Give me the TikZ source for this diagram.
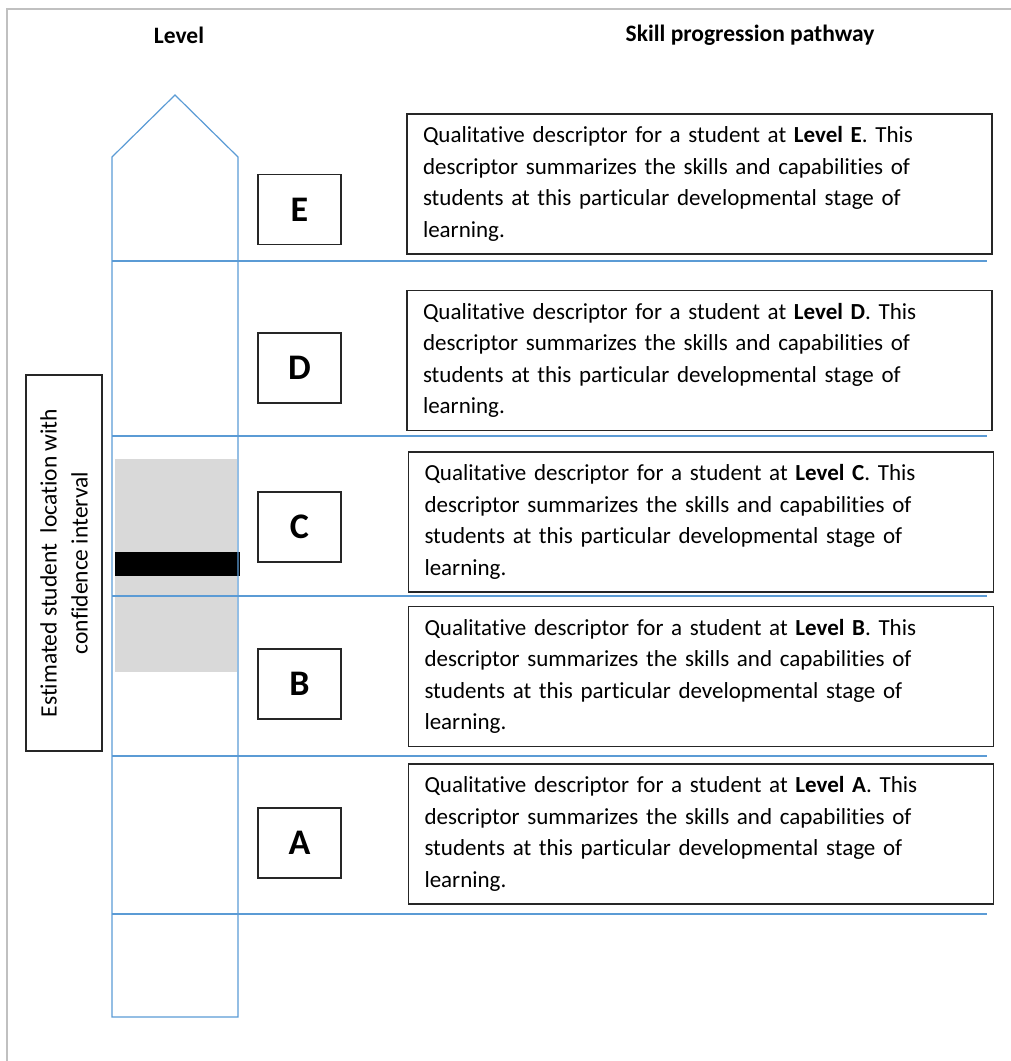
\documentclass[tikz,border=0pt]{standalone}
\usepackage{fontspec}
\setmainfont{Carlito}[Ligatures=NoCommon]
\usetikzlibrary{positioning}
\definecolor{ink}{HTML}{262626}
\definecolor{rule}{HTML}{5B9BD5}
\definecolor{band}{HTML}{D9D9D9}
\definecolor{frame}{HTML}{C0C0C0}
\tikzset{
  desc/.style={draw=ink,line width=1.3pt,fill=white,inner xsep=16pt,inner ysep=0pt,
    text width=553pt,minimum height=140pt,align=left,font=\fontsize{23}{31.5}\selectfont},
  lvl/.style={draw=ink,line width=1.3pt,fill=white,minimum width=83pt,minimum height=70pt,
    inner sep=0pt,font=\fontsize{36}{36}\selectfont\bfseries},
  head/.style={font=\fontsize{23.5}{26}\selectfont\bfseries},
  divider/.style={draw=rule,line width=1.2pt},
}
\newcommand{\descr}[1]{Qualitative descriptor for a student at \textbf{Level #1}. This\\
  descriptor summarizes the skills and capabilities of\\
  students at this particular developmental stage of\\
  learning.}

\begin{document}
\begin{tikzpicture}[x=1pt,y=-1pt]
  \useasboundingbox (0,0) rectangle (1011,1061);
  \draw[frame,line width=2pt] (7,1061) -- (7,9) -- (1011,9);

  \node[head] (hlevel) at (179,35) {Level};
  \node[head] (hpath) at (750,35) {Skill progression pathway};

  % confidence interval and estimate
  \fill[band] (115,459) rectangle (237,672);
  \fill[black] (115,552) rectangle (240,576);

  % level column
  \draw[divider] (112,1017) -- (112,157) -- (175,95) -- (238,157) -- (238,1017) -- cycle;
  \foreach \y in {261,436,596,756,914}
    \draw[divider] (112,\y) -- (987,\y);

  \node[lvl] (le) at (299.5,209.5) {E};
  \node[lvl] (ld) at (299.5,368) {D};
  \node[lvl] (lc) at (299.5,527) {C};
  \node[lvl] (lb) at (299.5,684) {B};
  \node[lvl] (la) at (299.5,843) {A};

  \node[desc] (de) at (699.5,184) {\descr{E}};
  \node[desc] (dd) at (699.5,360.5) {\descr{D}};
  \node[desc] (dc) at (701,522) {\descr{C}};
  \node[desc] (db) at (701,676.5) {\descr{B}};
  \node[desc] (da) at (701,834) {\descr{A}};

  \node[draw=ink,line width=1.3pt,minimum width=376pt,minimum height=76pt,inner sep=0pt,
    rotate=90,align=center,font=\fontsize{23.5}{31}\selectfont] (est) at (64,563)
    {Estimated student\ \ location with\\confidence interval};
\end{tikzpicture}
\end{document}
